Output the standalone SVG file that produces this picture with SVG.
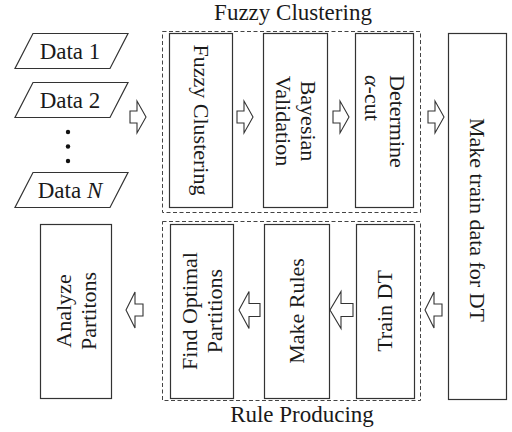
<svg xmlns="http://www.w3.org/2000/svg" width="512" height="432" viewBox="0 0 512 432">
<style>
text{font-family:"Liberation Serif","Times New Roman",serif;font-size:22px;fill:#1a1a1a}
.big{font-size:23px}
.box{fill:#fff;stroke:#333;stroke-width:1.2}
.grp{fill:none;stroke:#444;stroke-width:1;stroke-dasharray:4 2.5}
.arr{fill:#fff;stroke:#333;stroke-width:1.1;stroke-linejoin:miter}
.c{text-anchor:middle}
</style>
<rect width="512" height="432" fill="#fff"/>
<g id="group-fuzzy">
<rect class="grp" x="162.5" y="31.5" width="258" height="181"/>
<text class="c big" x="293" y="20">Fuzzy Clustering</text>
</g>
<g id="group-rule">
<rect class="grp" x="162.5" y="221.5" width="258" height="179"/>
<text class="c big" x="302" y="422">Rule Producing</text>
</g>
<g id="data1">
<polygon class="box" points="33,33.5 128,33.5 110,68.5 15,68.5"/>
<text class="c big" x="70" y="59">Data 1</text>
</g>
<g id="data2">
<polygon class="box" points="33,82.5 128,82.5 110,117.5 15,117.5"/>
<text class="c big" x="70" y="108">Data 2</text>
</g>
<g id="dots">
<circle cx="68" cy="132" r="2.2" fill="#111"/>
<circle cx="68" cy="146.5" r="2.2" fill="#111"/>
<circle cx="68" cy="161" r="2.2" fill="#111"/>
</g>
<g id="dataN">
<polygon class="box" points="33,172.5 128,172.5 110,207.5 15,207.5"/>
<text class="c big" x="70" y="198">Data <tspan font-style="italic">N</tspan></text>
</g>
<g id="fuzzy-clustering">
<rect class="box" x="169.5" y="33.5" width="63" height="174"/>
<text class="c" transform="translate(201,120) rotate(90)" y="7">Fuzzy Clustering</text>
</g>
<g id="bayesian">
<rect class="box" x="263.5" y="33.5" width="64" height="174"/>
<text class="c" transform="translate(295,121) rotate(90)" y="-5.5">Bayesian</text>
<text class="c" transform="translate(295,121) rotate(90)" y="19.5">Validation</text>
</g>
<g id="alpha-cut">
<rect class="box" x="355.5" y="33.5" width="58" height="174"/>
<text transform="translate(384,120) rotate(90)" x="-45" y="-5.5">Determine</text>
<text transform="translate(384,120) rotate(90)" x="-45" y="19.5"><tspan font-style="italic">α</tspan>-cut</text>
</g>
<g id="make-train">
<rect class="box" x="448.5" y="33.5" width="58" height="366"/>
<text class="c" transform="translate(477,220) rotate(90)" y="7">Make train data for DT</text>
</g>
<g id="train-dt">
<rect class="box" x="356.5" y="224.5" width="58" height="174"/>
<text class="c" transform="translate(385,311) rotate(-90)" y="7">Train DT</text>
</g>
<g id="make-rules">
<rect class="box" x="264.5" y="224.5" width="65" height="174"/>
<text class="c" transform="translate(297,311) rotate(-90)" y="7">Make Rules</text>
</g>
<g id="find-optimal">
<rect class="box" x="170.5" y="224.5" width="63" height="174"/>
<text class="c" transform="translate(202,311) rotate(-90)" y="-5.5">Find Optimal</text>
<text class="c" transform="translate(202,311) rotate(-90)" y="19.5">Partitions</text>
</g>
<g id="analyze">
<rect class="box" x="40.5" y="224.5" width="71" height="174"/>
<text class="c" transform="translate(76,311) rotate(-90)" y="-5.5">Analyze</text>
<text class="c" transform="translate(76,311) rotate(-90)" y="19.5">Partitons</text>
</g>
<g id="connectors">
<polygon class="arr" points="130,111 137,111 137,101 146,117 137,133 137,123 130,123"/>
<polygon class="arr" points="237,111 244,111 244,101 253,117 244,133 244,123 237,123"/>
<polygon class="arr" points="333,111 340,111 340,101 349,117 340,133 340,123 333,123"/>
<polygon class="arr" points="428,111 435,111 435,101 444,117 435,133 435,123 428,123"/>
<polygon class="arr" points="442,304 434,304 434,292 425,310 434,328 434,316 442,316"/>
<polygon class="arr" points="353,303.5 341,303.5 341,291.5 330,310 341,328.5 341,316.5 353,316.5"/>
<polygon class="arr" points="260,303.5 249,303.5 249,291.5 239,310 249,328.5 249,316.5 260,316.5"/>
<polygon class="arr" points="143,304 135,304 135,292 126,310 135,328 135,316 143,316"/>
</g>
</svg>
